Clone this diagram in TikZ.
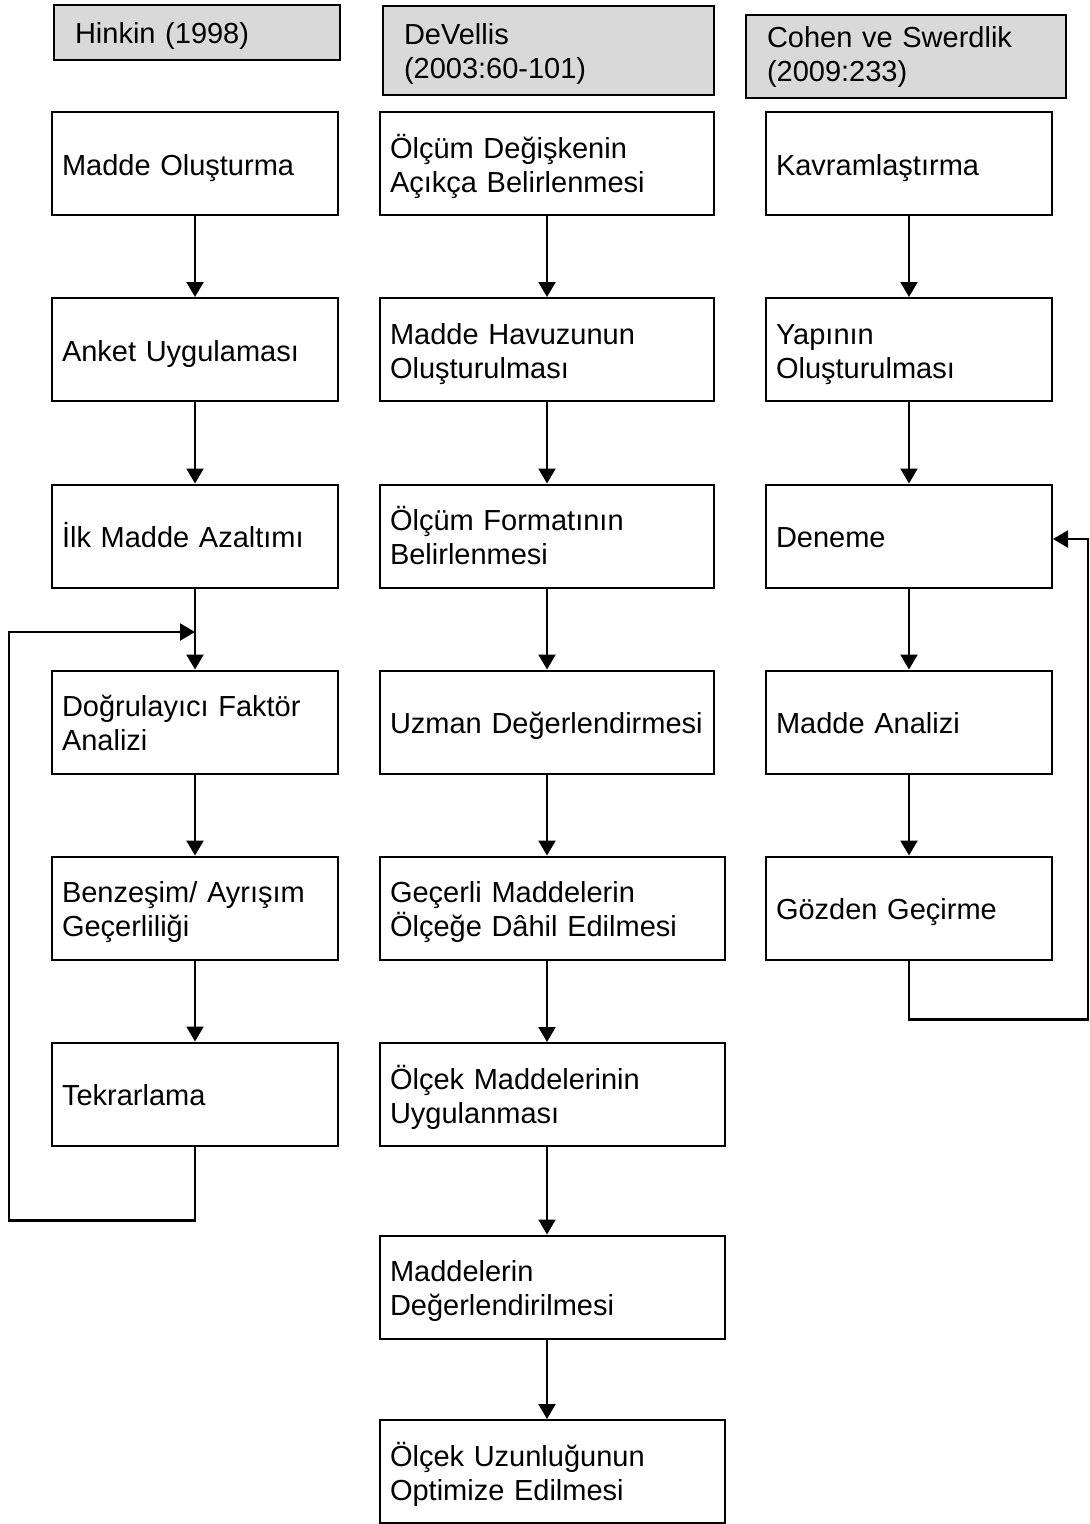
\documentclass[tikz,border=0pt]{standalone}
\usepackage{fontspec}
\setmainfont{Liberation Sans}
\usetikzlibrary{arrows.meta}
\definecolor{hdrgray}{RGB}{217,217,217}
\newcommand{\nohyph}{\hyphenpenalty 10000\relax}
\newcommand{\topstrut}[1]{\rule{0pt}{#1}}
\newcommand{\botstrut}[1]{\rule[-#1]{0pt}{0pt}}
\begin{document}
\begin{tikzpicture}[x=1pt,y=-1pt,
  every node/.style={font=\fontsize{29}{34}\selectfont},
  stepbox/.style={draw, line width=2pt, inner xsep=10pt, inner ysep=0pt,
    minimum height=103pt, text width=#1, align=left,
    execute at begin node={\nohyph\topstrut{30pt}},
    execute at end node={\botstrut{7pt}}},
  hdrbox/.style={draw, fill=hdrgray, line width=2.2pt, inner xsep=21pt, inner ysep=0pt,
    text width=#1, align=left, execute at begin node={\nohyph}},
  lower/.style={execute at begin node={\nohyph\topstrut{28pt}},
    execute at end node={\botstrut{6pt}}},
  arr/.style={line width=2.2pt, -{Triangle[width=17pt,length=15pt]}}
]
\useasboundingbox (0,0) rectangle (1090,1524);

% headers
\node[hdrbox=244pt, minimum height=55pt, lower] (hA) at (197,32.5) {Hinkin (1998)};
\node[hdrbox=289pt, minimum height=89pt, lower] (hB) at (548.5,50.5) {DeVellis\\(2003:60-101)};
\node[hdrbox=278pt, minimum height=83pt] (hC) at (906,56.5) {Cohen ve Swerdlik\\(2009:233)};

% column 1
\node[stepbox=266pt] (a1) at (195,163.5) {Madde Oluşturma};
\node[stepbox=266pt] (a2) at (195,349.5) {Anket Uygulaması};
\node[stepbox=266pt] (a3) at (195,536) {İlk Madde Azaltımı};
\node[stepbox=266pt] (a4) at (195,722) {Doğrulayıcı Faktör\\Analizi};
\node[stepbox=266pt] (a5) at (195,908) {Benzeşim/ Ayrışım\\Geçerliliği};
\node[stepbox=266pt] (a6) at (195,1094) {Tekrarlama};

% column 2
\node[stepbox=314pt] (b1) at (547,163.5) {Ölçüm Değişkenin\\Açıkça Belirlenmesi};
\node[stepbox=314pt] (b2) at (547,349.5) {Madde Havuzunun\\Oluşturulması};
\node[stepbox=314pt] (b3) at (547,536) {Ölçüm Formatının\\Belirlenmesi};
\node[stepbox=314pt] (b4) at (547,722) {Uzman Değerlendirmesi};
\node[stepbox=325pt] (b5) at (552.5,908) {Geçerli Maddelerin\\Ölçeğe Dâhil Edilmesi};
\node[stepbox=325pt] (b6) at (552.5,1094.5) {Ölçek Maddelerinin\\Uygulanması};
\node[stepbox=325pt] (b7) at (552.5,1287) {Maddelerin\\Değerlendirilmesi};
\node[stepbox=325pt] (b8) at (552.5,1471.5) {Ölçek Uzunluğunun\\Optimize Edilmesi};

% column 3
\node[stepbox=266pt] (c1) at (909,163.5) {Kavramlaştırma};
\node[stepbox=266pt] (c2) at (909,349.5) {Yapının\\Oluşturulması};
\node[stepbox=266pt] (c3) at (909,536) {Deneme};
\node[stepbox=266pt] (c4) at (909,722) {Madde Analizi};
\node[stepbox=266pt] (c5) at (909,908) {Gözden Geçirme};

% column 1 arrows
\draw[arr] (a1.south) -- (a2.north);
\draw[arr] (a2.south) -- (a3.north);
\draw[arr] (a3.south) -- (a4.north);
\draw[arr] (a4.south) -- (a5.north);
\draw[arr] (a5.south) -- (a6.north);
\coordinate (ja) at (195,632);
\draw[arr] (a6.south) -- ++(0,74) -| (9,632) -- (ja);

% column 2 arrows
\draw[arr] (b1.south) -- (b2.north);
\draw[arr] (b2.south) -- (b3.north);
\draw[arr] (b3.south) -- (b4.north);
\draw[arr] (b4.south) -- (b4.south |- b5.north);
\draw[arr] (b4.south |- b5.south) -- (b4.south |- b6.north);
\draw[arr] (b4.south |- b6.south) -- (b4.south |- b7.north);
\draw[arr] (b4.south |- b7.south) -- (b4.south |- b8.north);

% column 3 arrows
\draw[arr] (c1.south) -- (c2.north);
\draw[arr] (c2.south) -- (c3.north);
\draw[arr] (c3.south) -- (c4.north);
\draw[arr] (c4.south) -- (c5.north);
\draw[arr] (c5.south) -- ++(0,59) -| (1088,539) -- (c3.east |- 0,539);
\end{tikzpicture}
\end{document}
